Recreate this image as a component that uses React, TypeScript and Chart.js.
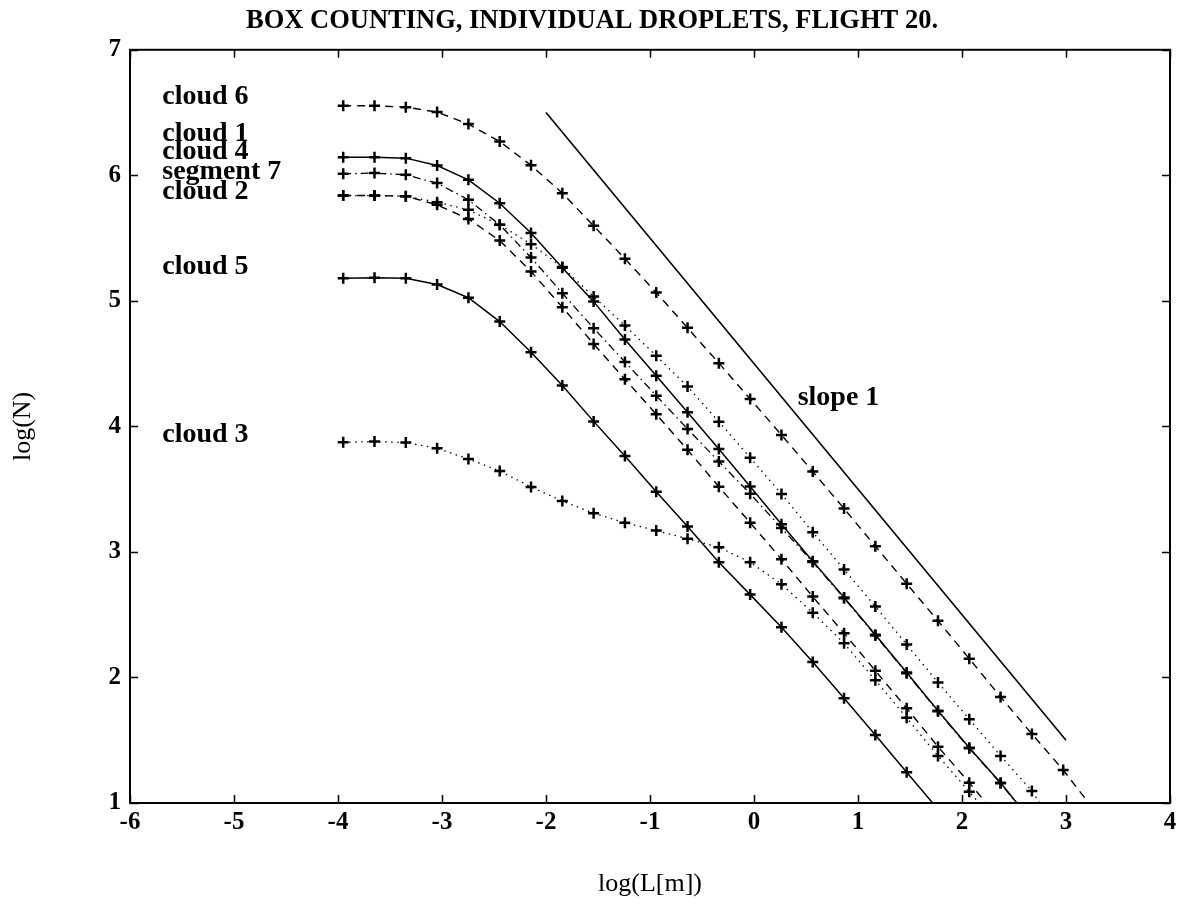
import React, { useEffect, useRef } from 'react';
import { Chart, registerables } from 'chart.js';

Chart.register(...registerables);

// ---- data ----
const xGrid = [
  -3.95, -3.649, -3.348, -3.047, -2.746, -2.445, -2.144, -1.843, -1.542, -1.241,
  -0.94, -0.639, -0.338, -0.037, 0.264, 0.565, 0.866, 1.167, 1.468, 1.769,
  2.07, 2.371, 2.672, 2.973, 3.274,
];

const cloud6 = [
  6.554, 6.554, 6.543, 6.504, 6.408, 6.269, 6.08, 5.858, 5.598, 5.336,
  5.066, 4.785, 4.504, 4.219, 3.932, 3.64, 3.345, 3.046, 2.747, 2.451,
  2.15, 1.845, 1.55, 1.263, 0.94,
];
const cloud1 = [
  5.839, 5.839, 5.834, 5.786, 5.725, 5.606, 5.452, 5.269, 5.034, 4.803,
  4.562, 4.317, 4.038, 3.751, 3.462, 3.157, 2.86, 2.566, 2.262, 1.96,
  1.668, 1.375, 1.096, 0.72,
];
const cloud4 = [
  6.145, 6.145, 6.137, 6.078, 5.964, 5.778, 5.541, 5.263, 4.994, 4.692,
  4.404, 4.112, 3.82, 3.522, 3.22, 2.925, 2.638, 2.341, 2.039, 1.735,
  1.441, 1.162, 0.85,
];
const segment7 = [
  6.012, 6.018, 6.004, 5.938, 5.805, 5.606, 5.345, 5.061, 4.782, 4.514,
  4.245, 3.98, 3.72, 3.464, 3.19, 2.92, 2.632, 2.335, 2.034, 1.73,
  1.436, 1.157, 0.85,
];
const cloud2 = [
  5.839, 5.839, 5.834, 5.765, 5.653, 5.48, 5.234, 4.95, 4.657, 4.376,
  4.097, 3.813, 3.52, 3.233, 2.942, 2.644, 2.352, 2.054, 1.755, 1.449,
  1.162, 0.86,
];
const cloud5 = [
  5.181, 5.185, 5.18, 5.13, 5.025, 4.835, 4.591, 4.325, 4.04, 3.765,
  3.48, 3.202, 2.918, 2.66, 2.4, 2.124, 1.834, 1.542, 1.245, 0.95,
];
const cloud3 = [
  3.874, 3.879, 3.871, 3.826, 3.741, 3.645, 3.518, 3.406, 3.308, 3.233,
  3.17, 3.105, 3.037, 2.918, 2.743, 2.516, 2.272, 1.978, 1.679, 1.375,
  1.09, 0.8,
];

const slopeX = [-2, 3];
const slopeY = [6.5, 1.5];

const xTickValues = [-6, -5, -4, -3, -2, -1, 0, 1, 2, 3, 4];
const xTickLabels = ['-6', '-5', '-4', '-3', '-2', '-1', '0', '1', '2', '3', '4'];
const yTickValues = [1, 2, 3, 4, 5, 6, 7];
const yTickLabels = ['1', '2', '3', '4', '5', '6', '7'];

const noteTexts = ['cloud 6', 'cloud 1', 'cloud 4', 'segment 7', 'cloud 2', 'cloud 5', 'cloud 3', 'slope 1'];
const noteX = [-5.69, -5.69, -5.69, -5.69, -5.69, -5.69, -5.69, 0.42];
const noteY = [6.625, 6.328, 6.19, 6.025, 5.871, 5.268, 3.93, 4.227];

const TITLE = 'BOX COUNTING, INDIVIDUAL DROPLETS, FLIGHT 20.';
const FONT = "'Liberation Serif', 'DejaVu Serif', serif";

const toPoints = (ys: number[], xs: number[]) => ys.map((v, i) => ({ x: xs[i], y: v }));

const frameAndNotes = {
  id: 'frameAndNotes',
  afterDatasetsDraw(chart: any) {
    const { ctx, chartArea } = chart;
    const xs = chart.scales.x;
    const ys = chart.scales.y;
    const { left, right, top, bottom } = chartArea;
    ctx.save();
    ctx.strokeStyle = '#000';
    ctx.lineWidth = 2;
    ctx.setLineDash([]);
    ctx.strokeRect(left, top, right - left, bottom - top);
    ctx.lineWidth = 1.5;
    const tl = 8;
    ctx.beginPath();
    xTickValues.forEach((v) => {
      const p = Math.round(xs.getPixelForValue(v)) + 0.5;
      ctx.moveTo(p, bottom);
      ctx.lineTo(p, bottom - tl);
      ctx.moveTo(p, top);
      ctx.lineTo(p, top + tl);
    });
    yTickValues.forEach((v) => {
      const p = Math.round(ys.getPixelForValue(v)) + 0.5;
      ctx.moveTo(left, p);
      ctx.lineTo(left + tl, p);
      ctx.moveTo(right, p);
      ctx.lineTo(right - tl, p);
    });
    ctx.stroke();

    ctx.fillStyle = '#000';
    ctx.font = `bold 28px ${FONT}`;
    ctx.textAlign = 'left';
    ctx.textBaseline = 'middle';
    noteTexts.forEach((t, i) => {
      ctx.fillText(t, xs.getPixelForValue(noteX[i]), ys.getPixelForValue(noteY[i]));
    });
    ctx.restore();
  },
};

export default function App() {
  const ref = useRef<HTMLCanvasElement | null>(null);

  useEffect(() => {
    document.body.style.margin = '0';
    const canvas = ref.current;
    if (!canvas) return;

    const lineBase = {
      borderColor: '#000',
      backgroundColor: '#000',
      pointStyle: 'cross',
      pointRadius: 5.5,
      pointBorderWidth: 2.5,
      pointBorderColor: '#000',
      pointHoverRadius: 5.5,
      showLine: true,
      tension: 0,
      clip: 0,
    };

    const datasets: any[] = [
      { ...lineBase, label: 'cloud 6', data: toPoints(cloud6, xGrid), borderWidth: 1.4, borderDash: [8, 6] },
      { ...lineBase, label: 'cloud 1', data: toPoints(cloud1, xGrid), borderWidth: 1.3, borderDash: [1.5, 4.5] },
      { ...lineBase, label: 'cloud 4', data: toPoints(cloud4, xGrid), borderWidth: 1.5 },
      { ...lineBase, label: 'segment 7', data: toPoints(segment7, xGrid), borderWidth: 1.3, borderDash: [8, 4, 1.5, 4] },
      { ...lineBase, label: 'cloud 2', data: toPoints(cloud2, xGrid), borderWidth: 1.4, borderDash: [8, 6] },
      { ...lineBase, label: 'cloud 5', data: toPoints(cloud5, xGrid), borderWidth: 1.5 },
      { ...lineBase, label: 'cloud 3', data: toPoints(cloud3, xGrid), borderWidth: 1.3, borderDash: [1.5, 4.5] },
      {
        label: 'slope 1',
        data: toPoints(slopeY, slopeX),
        borderColor: '#000',
        borderWidth: 1.6,
        pointRadius: 0,
        showLine: true,
        clip: 0,
      },
    ];

    const tickFont = { family: FONT, size: 25, weight: 'bold' as const };
    const titleFont = { family: FONT, size: 26, weight: 'normal' as const };

    const chart = new Chart(canvas, {
      type: 'scatter',
      data: { datasets },
      plugins: [frameAndNotes],
      options: {
        animation: false,
        responsive: false,
        maintainAspectRatio: false,
        layout: { padding: { left: 0, right: 0, top: 0, bottom: 0 } },
        plugins: {
          legend: { display: false },
          tooltip: { enabled: false },
          title: {
            display: true,
            text: TITLE,
            color: '#000',
            font: { family: FONT, size: 26.5, weight: 'bold' },
            padding: { top: 5, bottom: 13 },
          },
        },
        scales: {
          x: {
            type: 'linear',
            position: 'bottom',
            min: -6,
            max: 4,
            afterBuildTicks: (s: any) => {
              s.ticks = xTickValues.map((v) => ({ value: v }));
            },
            afterFit: (s: any) => {
              s.height = 103;
            },
            ticks: {
              color: '#000',
              font: tickFont,
              padding: 5,
              maxRotation: 0,
              autoSkip: false,
              callback: (v: any) => xTickLabels[xTickValues.indexOf(Number(v))] ?? '',
            },
            grid: { display: false, drawTicks: false },
            border: { display: false },
            title: {
              display: true,
              text: 'log(L[m])',
              color: '#000',
              font: titleFont,
              padding: { top: 0, bottom: 6 },
            },
          },
          y: {
            type: 'linear',
            position: 'left',
            min: 1,
            max: 7,
            afterBuildTicks: (s: any) => {
              s.ticks = yTickValues.map((v) => ({ value: v }));
            },
            afterFit: (s: any) => {
              s.width = 130;
            },
            ticks: {
              color: '#000',
              font: tickFont,
              padding: 9,
              autoSkip: false,
              callback: (v: any) => yTickLabels[yTickValues.indexOf(Number(v))] ?? '',
            },
            grid: { display: false, drawTicks: false },
            border: { display: false },
            title: {
              display: true,
              text: 'log(N)',
              color: '#000',
              font: titleFont,
              padding: { top: 8, bottom: 0 },
            },
          },
          yRight: {
            type: 'linear',
            position: 'right',
            min: 1,
            max: 7,
            ticks: { display: false },
            grid: { display: false, drawTicks: false },
            border: { display: false },
            afterFit: (s: any) => {
              s.width = 14;
            },
          },
        },
      } as any,
    });

    return () => {
      chart.destroy();
    };
  }, []);

  return (
    <div style={{ width: 1184, height: 906, background: '#fff' }}>
      <canvas ref={ref} width={1184} height={906} style={{ display: 'block' }} />
    </div>
  );
}
